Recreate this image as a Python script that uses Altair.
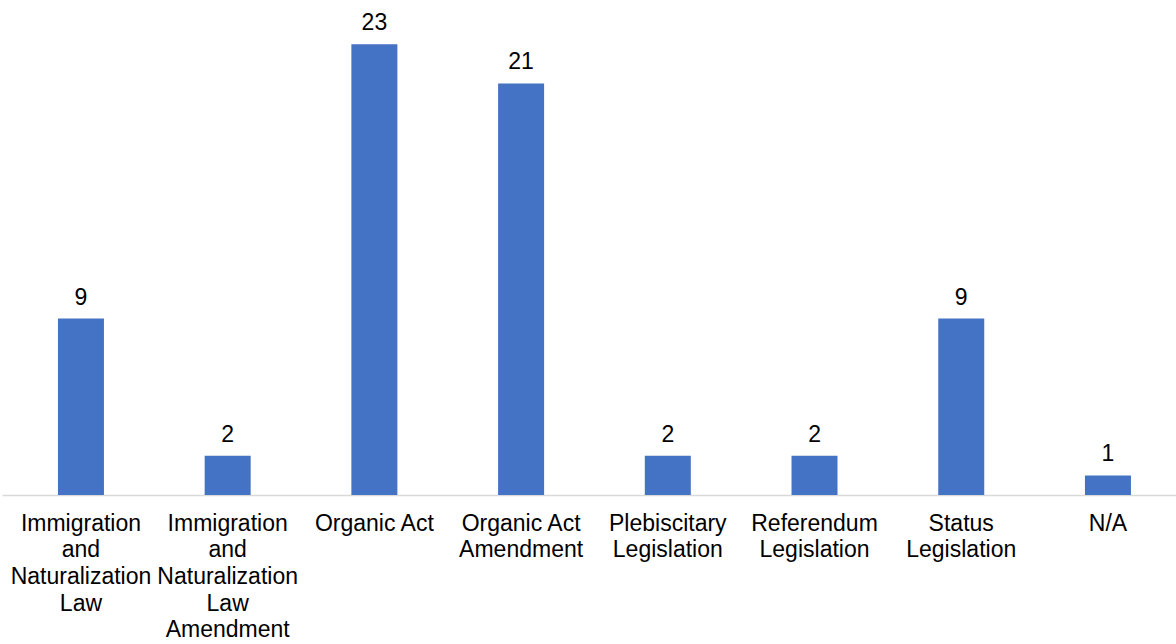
import altair as alt
import pandas as pd

categories = [
    "Immigration\nand\nNaturalization\nLaw",
    "Immigration\nand\nNaturalization\nLaw\nAmendment",
    "Organic Act",
    "Organic Act\nAmendment",
    "Plebiscitary\nLegislation",
    "Referendum\nLegislation",
    "Status\nLegislation",
    "N/A",
]
counts = [9, 2, 23, 21, 2, 2, 9, 1]

df = pd.DataFrame({"category": categories, "count": counts})

FONT = "Liberation Sans"

x = alt.X(
    "category:N",
    sort=None,
    title=None,
    scale=alt.Scale(paddingInner=0.686, paddingOuter=0.344, align=0.554),
    axis=alt.Axis(
        labelExpr="split(datum.label, '\\n')",
        labelAngle=0,
        labelFont=FONT,
        labelFontSize=23,
        labelLineHeight=26.7,
        labelColor="#000000",
        labelPadding=17,
        labelOverlap=False,
        labelBound=False,
        labelLimit=300,
        ticks=False,
        domainColor="#d9d9d9",
        domainWidth=1.5,
        grid=False,
    ),
)
y = alt.Y("count:Q", scale=alt.Scale(domain=[0, 25], nice=False), axis=None)

bars = alt.Chart(df).mark_bar(color="#4472C4", size=46).encode(x=x, y=y)
labels = alt.Chart(df).mark_text(
    font=FONT, fontSize=23, color="#000000", baseline="alphabetic", dy=-14
).encode(x=x, y=y, text="count:Q")

chart = (
    alt.layer(bars, labels)
    .properties(
        width=1174,
        height=490,
        padding={"left": 2, "top": 5, "right": 0, "bottom": 149},
        autosize=alt.AutoSizeParams(type="none"),
    )
    .configure_view(stroke=None)
)

chart.save("out.html", embed_options={"renderer": "svg", "actions": False})
